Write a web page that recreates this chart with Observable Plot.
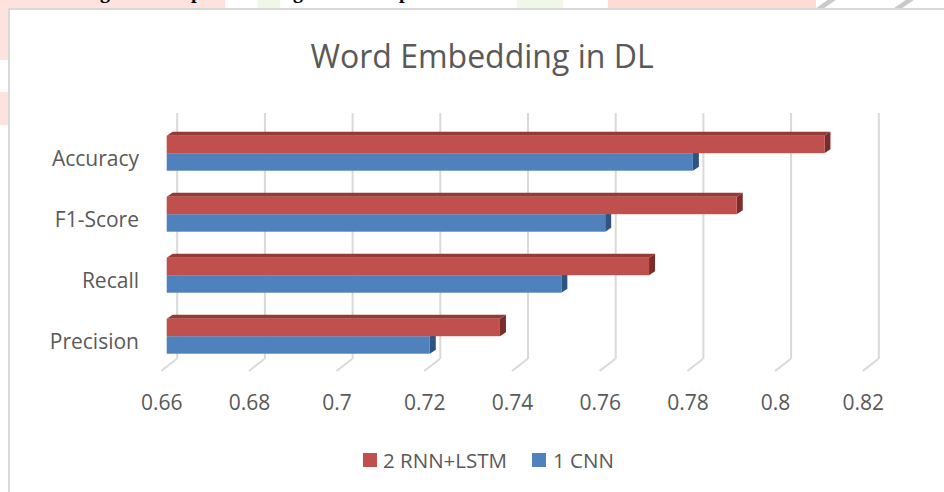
<!DOCTYPE html>
<html>
<head>
<meta charset="utf-8">
<script src="https://cdn.jsdelivr.net/npm/d3@7"></script>
<script src="https://cdn.jsdelivr.net/npm/@observablehq/plot@0.6"></script>
<style>
  body { margin: 0; background: #fff; font-family: "Open Sans", sans-serif; }
  #wrap { position: relative; width: 944px; height: 492px; overflow: hidden; background: #fff; }
  #wrap svg { position: absolute; left: 0; top: 0; }
  .abs { position: absolute; }
  .title { left: 482px; top: 40px; transform: translateX(-50%); font-size: 32px; line-height: 32px; color: #595959; white-space: nowrap; }
  .legend { top: 446px; font-size: 20.5px; line-height: 28px; color: #595959; white-space: nowrap; }
  .sw { width: 13.5px; height: 13.5px; top: 453px; }
  .glyph { top: -19px; font-family: "Liberation Serif", serif; font-weight: bold; font-size: 20px; line-height: 20px; color: #000; }
</style>
</head>
<body>
<div id="wrap"></div>
<script>
// ---- data ----
const categories = ["Accuracy", "F1-Score", "Recall", "Precision"];
const seriesNames = ["2 RNN+LSTM", "1 CNN"];
const rnnLstm = [0.81, 0.79, 0.77, 0.736];
const cnn = [0.78, 0.76, 0.75, 0.72];
const xTicks = [0.66, 0.68, 0.70, 0.72, 0.74, 0.76, 0.78, 0.80, 0.82];
const xTickLabels = ["0.66", "0.68", "0.7", "0.72", "0.74", "0.76", "0.78", "0.8", "0.82"];
const titleText = "Word Embedding in DL";

const colors = {red: "#C0504D", redTop: "#953a37", redSide: "#7c2d2b", blue: "#4F81BD", blueSide: "#2f5482", grid: "#d9d9d9", text: "#595959"};

const xMin = xTicks[0];
const redRows = categories.map((c, i) => ({category: c, value: rnnLstm[i]}));
const blueRows = categories.map((c, i) => ({category: c, value: cnn[i]}));
const tickRows = xTicks.map((t, i) => ({t, label: xTickLabels[i]}));

const depthX = 6, depthY = 4;     // 3-D extrusion of bars
const gridDx = 10;                // back plane offset
const floorInset = 17.4;          // gridline bottom above frame bottom

// function mark: 3-D side/top faces and the floor lines
function faces(index, scales, values, dimensions) {
  const x = scales.x, y = scales.y;
  const bw = typeof y.bandwidth === "function" ? y.bandwidth() : 35;
  const yb = dimensions.height - dimensions.marginBottom;
  const g = d3.create("svg:g");
  xTicks.forEach(t => {
    g.append("line")
      .attr("x1", x(t) + gridDx).attr("y1", yb - floorInset)
      .attr("x2", x(t) - 5.6).attr("y2", yb - 5.4)
      .attr("stroke", colors.grid).attr("stroke-width", 2);
  });
  const x0 = x(xMin);
  categories.forEach((c, i) => {
    const top = y(c), mid = top + bw / 2, bot = top + bw;
    const xb = x(cnn[i]), xr = x(rnnLstm[i]);
    const pts = a => a.map(p => p.join(",")).join(" ");
    g.append("polygon").attr("fill", colors.blueSide)
      .attr("points", pts([[xb, mid], [xb + depthX, mid - depthY], [xb + depthX, bot - depthY], [xb, bot]]));
    g.append("polygon").attr("fill", colors.redTop)
      .attr("points", pts([[x0, top], [x0 + depthX, top - depthY], [xr + depthX, top - depthY], [xr, top]]));
    g.append("polygon").attr("fill", colors.redSide)
      .attr("points", pts([[xr, top], [xr + depthX, top - depthY], [xr + depthX, mid - depthY], [xr, mid]]));
  });
  return g.node();
}

const chart = Plot.plot({
  width: 944,
  height: 492,
  marginLeft: 166.7,
  marginRight: 75.7,
  marginTop: 113,
  marginBottom: 115.6,
  style: {background: "transparent", fontFamily: "Open Sans", overflow: "visible"},
  x: {domain: [xTicks[0], xTicks[xTicks.length - 1]], axis: null},
  y: {domain: categories, axis: null, paddingInner: 0.4262, paddingOuter: 0.372, round: false},
  marks: [
    Plot.ruleX(xTicks, {x: d => d, dx: gridDx, insetBottom: floorInset, stroke: colors.grid, strokeWidth: 2}),
    faces,
    Plot.barX(blueRows, {y: "category", x1: xMin, x2: "value", fill: colors.blue, insetTop: 17.5}),
    Plot.barX(redRows, {y: "category", x1: xMin, x2: "value", fill: colors.red, insetBottom: 17.5}),
    Plot.text(categories, {y: d => d, text: d => d, frameAnchor: "left", textAnchor: "end", dx: -28.2, dy: 6, fontSize: 21, fill: colors.text}),
    Plot.text(tickRows, {x: "t", text: "label", frameAnchor: "bottom", lineAnchor: "middle", dx: -5.5, dy: 26.5, fontSize: 21, fill: colors.text})
  ]
});

const wrap = document.getElementById("wrap");
wrap.appendChild(chart);

function addDiv(cls, style, text) {
  const d = document.createElement("div");
  d.className = "abs " + (cls || "");
  Object.assign(d.style, style);
  if (text != null) d.textContent = text;
  wrap.appendChild(d);
  return d;
}

// page background remnants above the chart
addDiv("", {left: "0px", top: "0px", width: "225px", height: "8px", background: "#fde2de"});
addDiv("", {left: "258px", top: "0px", width: "22px", height: "8px", background: "#eff8e6"});
addDiv("", {left: "517px", top: "0px", width: "46px", height: "8px", background: "#eff8e6"});
addDiv("", {left: "608px", top: "0px", width: "208px", height: "8px", background: "#fddcd5"});
addDiv("", {left: "0px", top: "0px", width: "8px", height: "60px", background: "#fde2de"});
addDiv("", {left: "0px", top: "92px", width: "8px", height: "33px", background: "#fde2de"});
addDiv("", {left: "822px", top: "0px", width: "8px", height: "8px", background: "#c9c9c9", transform: "skewX(-55deg)"});
addDiv("", {left: "900px", top: "0px", width: "8px", height: "8px", background: "#c9c9c9", transform: "skewX(-55deg)"});
[["g", 100], ["p", 191], ["g", 293], ["p", 399]].forEach(([t, x]) => addDiv("glyph", {left: x + "px"}, t));

// chart area border
addDiv("", {left: "8px", top: "8px", width: "940px", height: "490px", borderLeft: "2px solid #d9d9d9", borderTop: "2px solid #d9d9d9"});

// title
addDiv("title", {}, titleText);

// legend
addDiv("sw", {left: "363px", background: colors.red});
addDiv("legend", {left: "383px"}, seriesNames[0]);
addDiv("sw", {left: "532px", background: colors.blue});
addDiv("legend", {left: "553px"}, seriesNames[1]);
</script>
</body>
</html>
